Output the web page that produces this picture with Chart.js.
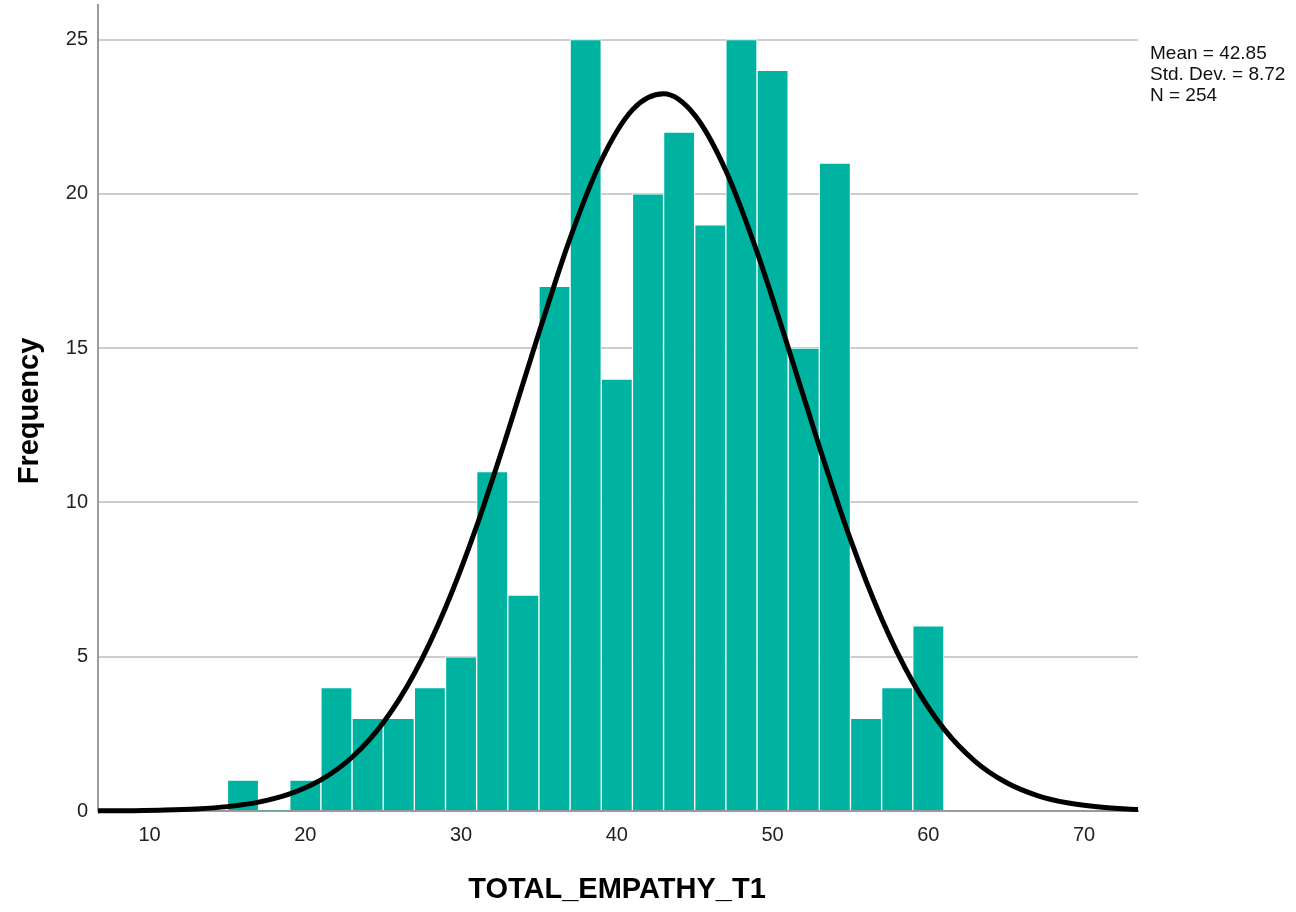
<!DOCTYPE html>
<html>
<head>
<meta charset="utf-8">
<script src="https://cdn.jsdelivr.net/npm/chart.js@4"></script>
<style>
html,body{margin:0;padding:0;background:#fff;}
#wrap{width:1296px;height:912px;position:relative;}
</style>
</head>
<body>
<div id="wrap"><canvas id="c" width="1296" height="912"></canvas></div>
<script>
// Histogram bins (centers, width 2) and frequencies
const binCenters = [16,18,20,22,24,26,28,30,32,34,36,38,40,42,44,46,48,50,52,54,56,58,60];
const frequencies = [1,0,1,4,3,3,4,5,11,7,17,25,14,20,22,19,25,24,15,21,3,4,6];
// Normal curve
const curveX = [6.69,7,9,11,13,15,17,19,21,23,25,27,29,31,33,35,37,39,41,43,45,47,49,51,53,55,57,59,61,63,65,67,69,71,73,73.46];
const curveY = [0.004,0.005,0.012,0.029,0.066,0.142,0.287,0.552,1.007,1.742,2.861,4.456,6.587,9.231,12.28,15.50,18.56,21.08,22.72,23.24,22.55,20.75,18.12,15.02,11.81,8.80,6.23,4.18,2.66,1.61,0.923,0.502,0.259,0.127,0.059,0.049];
const xTicks = [10,20,30,40,50,60,70];
const yTicks = [0,5,10,15,20,25];
const statsLines = ["Mean = 42.85","Std. Dev. = 8.72","N = 254"];
const xTitle = "TOTAL_EMPATHY_T1";
const yTitle = "Frequency";

const FONT = "'Liberation Sans', Arial, sans-serif";

const textPlugin = {
  id: 'texts',
  afterDraw(chart) {
    const ctx = chart.ctx;
    const ca = chart.chartArea;
    ctx.save();
    ctx.fillStyle = '#000';
    ctx.font = 'bold 29px ' + FONT;
    ctx.textAlign = 'center';
    ctx.textBaseline = 'alphabetic';
    ctx.fillText(xTitle, (ca.left + ca.right) / 2 - 1, 898);
    ctx.save();
    ctx.translate(38, 411);
    ctx.rotate(-Math.PI / 2);
    ctx.fillText(yTitle, 0, 0);
    ctx.restore();
    ctx.font = '19px ' + FONT;
    ctx.textAlign = 'left';
    ctx.fillStyle = '#111';
    statsLines.forEach((s, i) => ctx.fillText(s, ca.right + 12, 59 + i * 21));
    ctx.restore();
  }
};

new Chart(document.getElementById('c'), {
  data: {
    datasets: [
      {
        type: 'line',
        data: curveX.map((x, i) => ({x: x, y: curveY[i]})),
        borderColor: '#000',
        borderWidth: 5,
        pointRadius: 0,
        cubicInterpolationMode: 'monotone',
        fill: false,
        order: 0,
        clip: 10
      },
      {
        type: 'bar',
        data: binCenters.map((x, i) => ({x: x, y: frequencies[i]})),
        backgroundColor: '#00b3a0',
        borderColor: 'rgba(255,255,255,0.85)',
        borderWidth: (c) => (c.raw && c.raw.y > 0 ? 1 : 0),
        barPercentage: 1,
        categoryPercentage: 1,
        grouped: false,
        order: 1
      }
    ]
  },
  options: {
    responsive: false,
    animation: false,
    events: [],
    layout: { padding: { left: 0, right: 158, top: 5, bottom: 0 } },
    plugins: { legend: { display: false }, tooltip: { enabled: false } },
    scales: {
      x: {
        type: 'linear',
        min: 6.69,
        max: 73.46,
        offset: false,
        afterBuildTicks: (s) => { s.ticks = xTicks.map(v => ({value: v})); },
        afterFit: (s) => { s.height = 101; s.paddingLeft = 0; s.paddingRight = 0; },
        grid: { display: false, drawTicks: false },
        border: { display: true, color: '#9a9a9a', width: 2 },
        ticks: { color: '#222', font: { family: FONT, size: 20 }, padding: 12, maxRotation: 0, autoSkip: false }
      },
      y: {
        type: 'linear',
        min: 0,
        max: 26.12,
        afterBuildTicks: (s) => { s.ticks = yTicks.map(v => ({value: v})); },
        afterFit: (s) => { s.width = 98; s.paddingTop = 0; s.paddingBottom = 0; },
        grid: { color: '#cdcdcd', lineWidth: 2, drawTicks: false },
        border: { display: true, color: '#9a9a9a', width: 2 },
        ticks: { color: '#222', font: { family: FONT, size: 20 }, padding: 10 }
      }
    }
  },
  plugins: [textPlugin]
});
</script>
</body>
</html>
